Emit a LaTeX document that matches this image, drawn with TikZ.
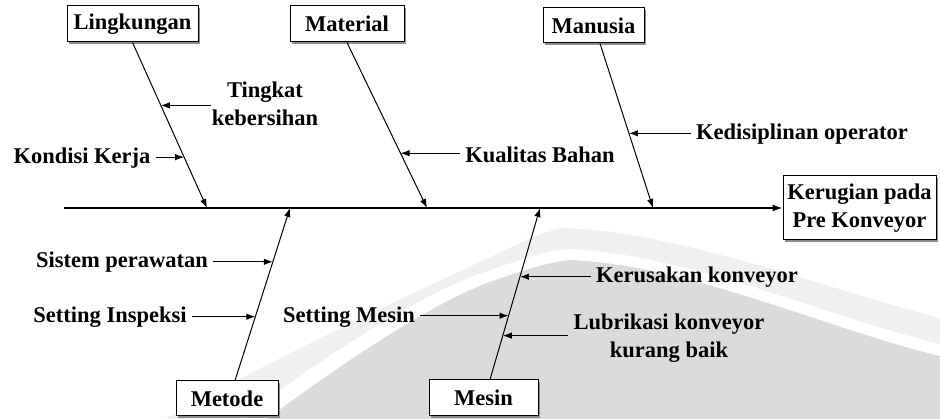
\documentclass[tikz,border=0pt]{standalone}
\usepackage{fontspec}
\setmainfont{Liberation Serif}
\usetikzlibrary{arrows.meta,calc,shadows}

\begin{document}
\begin{tikzpicture}[x=1pt,y=-1pt,
  every node/.style={font=\bfseries\fontsize{22.5}{28}\selectfont},
  catbox/.style={draw,line width=1pt,fill=white,inner sep=0pt,minimum height=36pt,
    drop shadow={shadow xshift=2pt,shadow yshift=-2pt,fill=black!45,opacity=1}},
  causetext/.style={inner xsep=5pt,inner ysep=2pt,align=center},
  spine/.style={line width=1.4pt,-{Latex[length=10pt,width=7pt]}},
  bone/.style={line width=1pt,-{Latex[length=9pt,width=6.5pt]}},
  cause/.style={line width=1.1pt,-{Latex[length=9pt,width=6.5pt]}},
]
\useasboundingbox (0,0) rectangle (940,419);

% faint arch in the background
\fill[black!6] (165,419) .. controls (300,345) and (420,290) .. (480,262)
  .. controls (520,243) and (545,230) .. (565,228)
  .. controls (680,232) and (830,290) .. (940,318) -- (940,419) -- cycle;
\fill[white] (240,419) .. controls (340,345) and (430,290) .. (485,272)
  .. controls (525,258) and (548,250) .. (568,249)
  .. controls (688,254) and (830,318) .. (940,344) -- (940,419) -- cycle;
\fill[black!14] (267,419) .. controls (360,350) and (440,300) .. (490,282)
  .. controls (530,268) and (550,262) .. (570,260)
  .. controls (690,265) and (830,330) .. (940,356) -- (940,419) -- cycle;

% category boxes
\node[catbox,minimum width=131pt] (ling) at (132.5,24) {Lingkungan};
\node[catbox,minimum width=114pt] (mat)  at (347,24)   {Material};
\node[catbox,minimum width=101pt,minimum height=35pt] (man) at (593.5,25.5) {Manusia};
\node[catbox,minimum width=102pt,minimum height=35pt] (met) at (227,398.5) {Metode};
\node[catbox,minimum width=109pt] (mes)  at (483.5,398) {Mesin};
\node[catbox,minimum width=153pt,minimum height=64pt,align=center] (eff) at (859.5,208)
  {Kerugian pada\\Pre Konveyor};

% spine and its junctions
\coordinate (tail) at (64,208);
\coordinate (j1) at (207,208);
\coordinate (j2) at (427,208);
\coordinate (j3) at (653,208);
\coordinate (j4) at (290,208);
\coordinate (j5) at (540,208);
\draw[spine] (tail) -- (eff.west);

% main bones
\coordinate (manS) at ([xshift=6.5pt]man.south);
\coordinate (metN) at ([xshift=8pt]met.north);
\coordinate (mesN) at ([xshift=6.5pt]mes.north);
\draw[bone] (ling.south) -- (j1);
\draw[bone] (mat.south) -- (j2);
\draw[bone] (manS) -- (j3);
\draw[bone] (metN) -- (j4);
\draw[bone] (mesN) -- (j5);

% points where the causes meet the bones
\coordinate (p1) at ($(ling.south)!0.38!(j1)$);
\coordinate (p2) at ($(ling.south)!0.693!(j1)$);
\coordinate (p3) at ($(mat.south)!0.669!(j2)$);
\coordinate (p4) at ($(manS)!0.546!(j3)$);
\coordinate (p5) at ($(metN)!0.688!(j4)$);
\coordinate (p6) at ($(metN)!0.37!(j4)$);
\coordinate (p7) at ($(mesN)!0.372!(j5)$);
\coordinate (p8) at ($(mesN)!0.599!(j5)$);
\coordinate (p9) at ($(mesN)!0.256!(j5)$);

% causes
\node[causetext,inner xsep=1pt] (tk) at (265,104) {Tingkat\\kebersihan};
\node[causetext] (kk)  at (82,158)  {Kondisi Kerja};
\node[causetext] (kb)  at (540,155) {Kualitas Bahan};
\node[causetext] (ko)  at (802,134) {Kedisiplinan operator};
\node[causetext] (sp)  at (122,262) {Sistem perawatan};
\node[causetext] (si)  at (110,317) {Setting Inspeksi};
\node[causetext] (sm)  at (349,317) {Setting Mesin};
\node[causetext] (kr)  at (697,277) {Kerusakan konveyor};
\node[causetext] (lk)  at (669,338) {Lubrikasi konveyor\\kurang baik};

\draw[cause] (tk.west |- p1) -- (p1);
\draw[cause] (kk.east |- p2) -- (p2);
\draw[cause] (kb.west |- p3) -- (p3);
\draw[cause] (ko.west |- p4) -- (p4);
\draw[cause] (sp.east |- p5) -- (p5);
\draw[cause] (si.east |- p6) -- (p6);
\draw[cause] (sm.east |- p7) -- (p7);
\draw[cause] (kr.west |- p8) -- (p8);
\draw[cause] (lk.west |- p9) -- (p9);
\end{tikzpicture}
\end{document}
